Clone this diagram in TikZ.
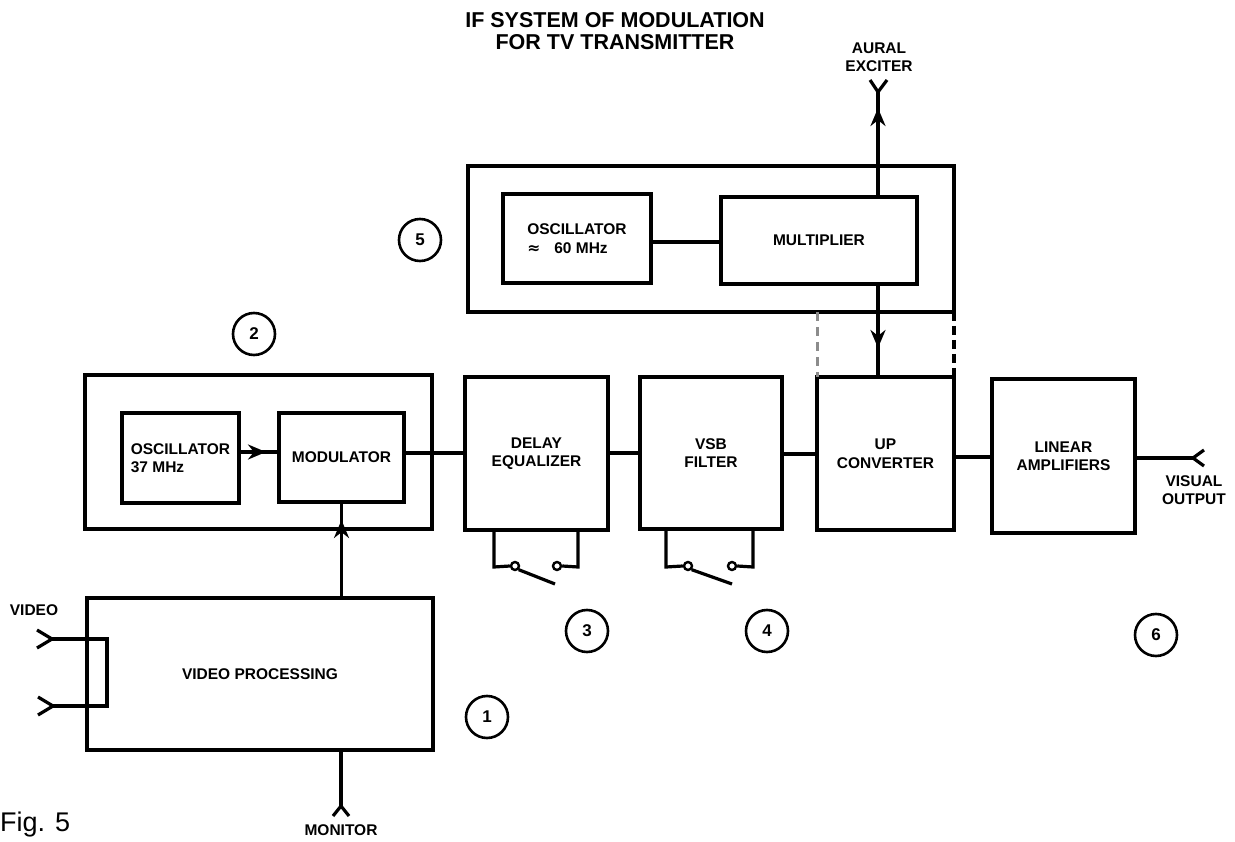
\documentclass[tikz,border=0pt]{standalone}
\usepackage{fontspec}
\setmainfont{Liberation Sans}
\newfontfamily\symfont{DejaVu Sans}
\usetikzlibrary{arrows.meta}
\begin{document}
\begin{tikzpicture}[x=1pt,y=-1pt,
  blk/.style={draw, line width=3.2pt, rectangle, inner sep=0pt, outer sep=0pt,
    font=\fontsize{15.5}{18.5}\selectfont\bfseries, align=center},
  lbl/.style={font=\fontsize{15.5}{18}\selectfont\bfseries, align=center, inner sep=0pt},
  num/.style={draw, circle, line width=2.6pt, minimum size=42pt, inner sep=0pt,
    font=\fontsize{17}{17}\selectfont\bfseries},
  arr/.style={-{Stealth[length=18pt,width=15pt]}},
  wire/.style={line width=3.2pt},
  contact/.style={draw, circle, line width=2.4pt, minimum size=8pt, inner sep=0pt, fill=white},
  graydash/.style={line width=3pt, dash pattern=on 9pt off 6pt, draw=black!45},
  blackdash/.style={line width=3.4pt, dash pattern=on 9pt off 5pt}
]
\useasboundingbox (0,0) rectangle (1235,842);
% title
\node[font=\fontsize{21.5}{21.5}\selectfont\bfseries, align=center, inner sep=0pt] (title) at (615,31)
  {IF SYSTEM OF MODULATION\\FOR TV TRANSMITTER};
% group 5
\node[blk, minimum width=486pt, minimum height=146pt] (box5) at (711,239) {};
\node[blk, minimum width=148pt, minimum height=89pt, align=left] (osc60) at (577,238.5)
  {OSCILLATOR\\{\symfont\bfseries ≈}\hspace{14pt}60 MHz};
\node[blk, minimum width=196pt, minimum height=87pt] (mult) at (819,240.5) {MULTIPLIER};
% group 2
\node[blk, minimum width=347pt, minimum height=154pt] (box2) at (258.5,452) {};
\node[blk, minimum width=117pt, minimum height=90pt, align=left] (osc37) at (180.5,458)
  {OSCILLATOR\\37 MHz};
\node[blk, minimum width=125pt, minimum height=89pt] (mod) at (341.5,457.5) {MODULATOR};
% chain
\node[blk, minimum width=143pt, minimum height=153pt] (delay) at (536.5,453.5) {DELAY\\EQUALIZER};
\node[blk, minimum width=142pt, minimum height=152pt] (vsb) at (711,453) {VSB\\FILTER};
\node[blk, minimum width=137pt, minimum height=153pt] (upc) at (885.5,453.5) {UP\\CONVERTER};
\node[blk, minimum width=143pt, minimum height=154pt] (lin) at (1063.5,456) {LINEAR\\AMPLIFIERS};
\node[blk, minimum width=346pt, minimum height=152pt] (vid) at (260,674) {VIDEO PROCESSING};
% numbered circles
\node[num] (n1) at (487,717) {1};
\node[num] (n2) at (254,334) {2};
\node[num] (n3) at (587,631) {3};
\node[num] (n4) at (767,631) {4};
\node[num] (n5) at (420,240) {5};
\node[num] (n6) at (1156,635) {6};
% labels
\node[lbl] (aural) at (879,57) {AURAL\\EXCITER};
\node[lbl] (visual) at (1194,490) {VISUAL\\OUTPUT};
\node[lbl] (video) at (34,610) {VIDEO};
\node[lbl] (monitor) at (341,830) {MONITOR};
\node[font=\fontsize{27}{27}\selectfont, inner sep=0pt, anchor=west] (fig) at (0,825) {Fig. 5};
% coordinates
\coordinate (aur) at (878,92);
\coordinate (aurL) at (870,80);
\coordinate (aurR) at (887,80);
\coordinate (aurtip) at (878,108);
\coordinate (uptip) at (878,348);
\coordinate (vis) at (1193,458);
\coordinate (visU) at (1204,450);
\coordinate (visD) at (1204,466);
\coordinate (mon) at (341,806);
\coordinate (monL) at (333,816);
\coordinate (monR) at (349,816);
\coordinate (modtip) at (341.5,520);
\coordinate (osctip) at (266,452);
\coordinate (v1) at (52,639);
\coordinate (v1a) at (37,630);
\coordinate (v1b) at (37,648);
\coordinate (v2) at (53,706);
\coordinate (v2a) at (38,697);
\coordinate (v2b) at (38,715);
\coordinate (vb1) at (107,639);
\coordinate (vb2) at (107,706);
% connectors group 5
\draw[wire] (osc60.east |- 0,242) -- (mult.west |- 0,242);
\draw[wire] (mult.north -| aur) -- (aur);
\draw[wire, arr] (mult.north -| aur) -- (aurtip);
\draw[wire] (aurL) -- (aur) -- (aurR);
\draw[wire] (mult.south -| aur) -- (upc.north -| aur);
\draw[wire, arr] (mult.south -| aur) -- (uptip);
\draw[graydash] (upc.north west |- box5.south) -- (upc.north west);
\draw[blackdash] (box5.south east) -- (upc.north east);
% group 2
\draw[wire] (osc37.east |- 0,452) -- (mod.west |- 0,452);
\draw[wire, arr] (osc37.east |- 0,452) -- (osctip);
\draw[wire] (mod.east |- 0,453) -- (delay.west |- 0,453);
\draw[wire] (vid.north -| mod.south) -- (mod.south);
\draw[wire, arr] (vid.north -| mod.south) -- (modtip);
% chain
\draw[wire] (delay.east |- 0,453) -- (vsb.west |- 0,453);
\draw[wire] (vsb.east |- 0,454) -- (upc.west |- 0,454);
\draw[wire] (upc.east |- 0,457) -- (lin.west |- 0,457);
\draw[wire] (lin.east |- vis) -- (vis);
\draw[wire] (visU) -- (vis) -- (visD);
% monitor
\draw[wire] (vid.south -| mon) -- (mon);
\draw[wire] (monL) -- (mon) -- (monR);
% video inputs
\draw[wire] (v1a) -- (v1) -- (v1b);
\draw[wire] (v2a) -- (v2) -- (v2b);
\draw[wire] (v1) -- (vb1) -- (vb2) -- (v2);
\fill (vid.west |- v1) circle (3pt);
\fill (vid.west |- v2) circle (3pt);
% switches
\node[contact] (s3a) at (515,566) {};
\node[contact] (s3b) at (557,566) {};
\node[contact] (s4a) at (688,566) {};
\node[contact] (s4b) at (732,566) {};
\coordinate (s3L) at (494,567);
\coordinate (s3R) at (578,567);
\coordinate (s4L) at (666,567);
\coordinate (s4R) at (753,567);
\coordinate (b3) at (555,584);
\coordinate (b4) at (732,584);
\draw[wire] (delay.south -| s3L) -- (s3L) -- (s3a.west);
\draw[wire] (s3b.east) -- (s3R) -- (delay.south -| s3R);
\draw[wire] (s3a.south east) -- (b3);
\draw[wire] (vsb.south -| s4L) -- (s4L) -- (s4a.west);
\draw[wire] (s4b.east) -- (s4R) -- (vsb.south -| s4R);
\draw[wire] (s4a.south east) -- (b4);
\end{tikzpicture}
\end{document}
